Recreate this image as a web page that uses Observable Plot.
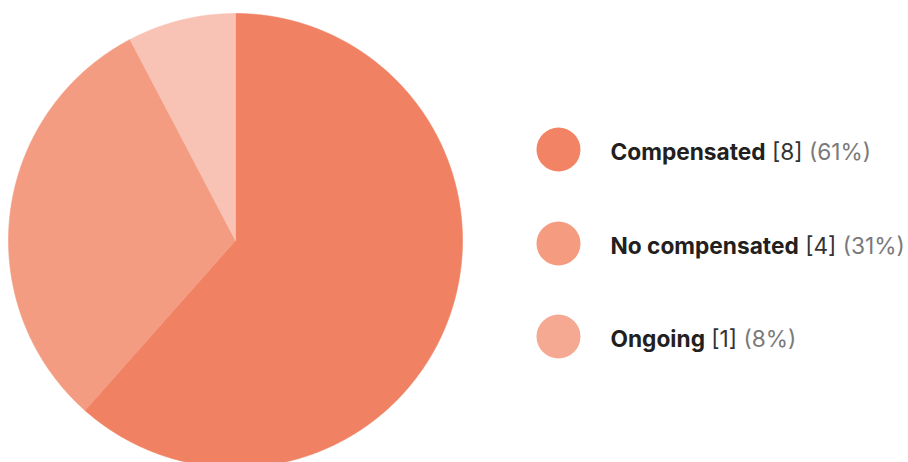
<!DOCTYPE html>
<html>
<head>
<meta charset="utf-8">
<script src="https://cdn.jsdelivr.net/npm/d3@7"></script>
<script src="https://cdn.jsdelivr.net/npm/@observablehq/plot@0.6"></script>
<style>
  html, body { margin: 0; padding: 0; background: #fff; }
  #chart svg { display: block; font-family: Inter, "Noto Sans", sans-serif; }
</style>
</head>
<body>
<div id="chart"></div>
<script>
// Data
const categories = ["Compensated", "No compensated", "Ongoing"];
const counts = [8, 4, 1];
const percentLabels = ["61%", "31%", "8%"];
const sliceColors = ["#F08163", "#F39C82", "#F8C3B4"];
const legendColors = ["#F28365", "#F59B80", "#F5A993"];

// Layout
const W = 908, H = 462;
const cx = 235, cy = 240, R = 227;
const legendX = 558, legendTextX = 610;
const legendY = [149, 243, 336];
const textDy = 3;

// Build slice polygons from the data via d3.pie
const arcs = d3.pie().sort(null).value(d => d)(counts);
const slicePts = [];
arcs.forEach((a, i) => {
  slicePts.push({cat: categories[i], x: cx, y: cy});
  const n = Math.max(4, Math.ceil((a.endAngle - a.startAngle) * 120));
  for (let k = 0; k <= n; k++) {
    const t = a.startAngle + (a.endAngle - a.startAngle) * k / n;
    slicePts.push({cat: categories[i], x: cx + R * Math.sin(t), y: cy - R * Math.cos(t)});
  }
  slicePts.push({cat: categories[i], x: cx, y: cy});
});

const legend = categories.map((c, i) => ({
  cat: c, count: counts[i], pct: percentLabels[i], y: legendY[i], color: legendColors[i]
}));

const svg = Plot.plot({
  width: W, height: H,
  margin: 0,
  x: {domain: [0, W], range: [0, W], axis: null},
  y: {domain: [0, H], range: [0, H], axis: null},
  color: {domain: categories, range: sliceColors},
  marks: [
    Plot.line(slicePts, {x: "x", y: "y", z: "cat", fill: "cat", stroke: "cat", strokeWidth: 0.6, curve: "linear"}),
    Plot.dot(legend, {x: () => legendX, y: "y", r: 22, fill: d => d.color, stroke: null}),
    Plot.text(legend, {x: () => legendTextX, y: "y", dy: textDy, text: "cat", textAnchor: "start", fontSize: 22.7})
  ]
});

// Style the legend text with mixed weights / colours
d3.select(svg).selectAll('g[aria-label="text"] text').each(function(i) {
  const d = legend[i];
  const t = d3.select(this);
  t.text(null);
  t.append("tspan").attr("font-weight", 700).attr("fill", "#231f20").text(d.cat);
  t.append("tspan").attr("fill", "#333333").text(" [" + d.count + "]");
  t.append("tspan").attr("fill", "#7a7a7a").text(" (" + d.pct + ")");
});

document.getElementById("chart").appendChild(svg);
</script>
</body>
</html>
